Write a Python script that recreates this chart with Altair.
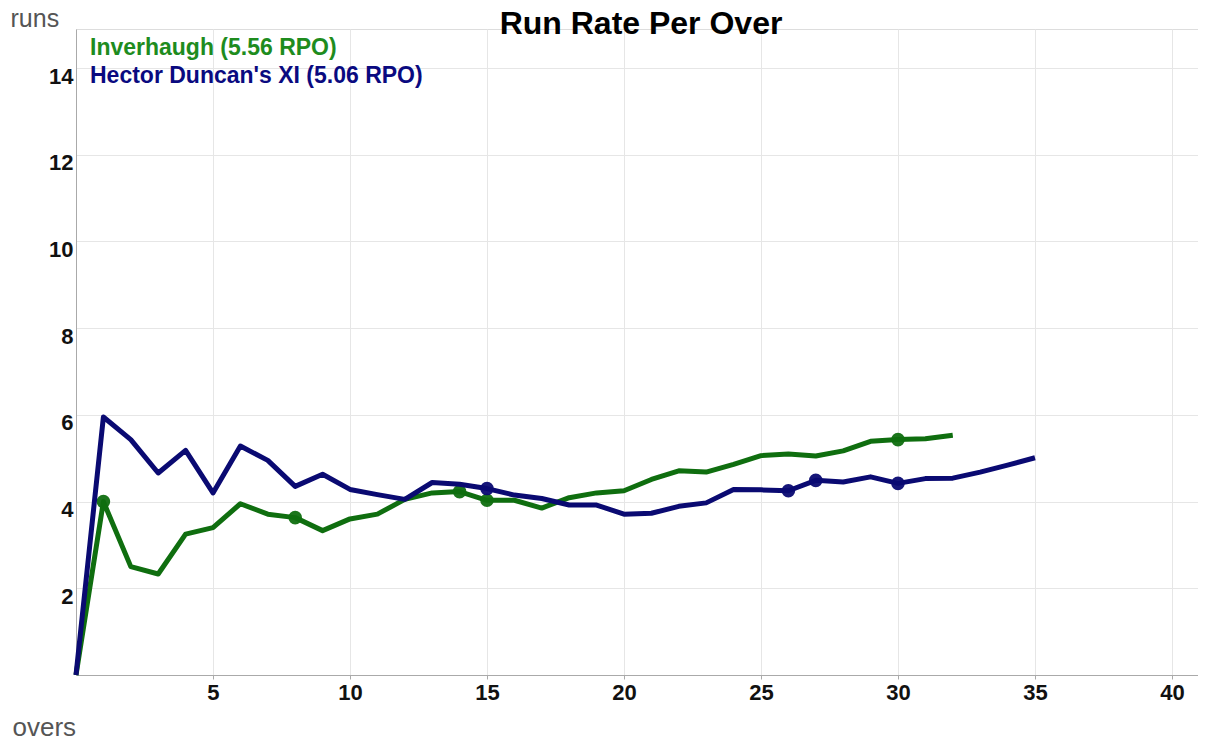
import altair as alt
import pandas as pd

chart_title = "Run Rate Per Over"
teams = ["Inverhaugh", "Hector Duncan's XI"]
rpo = [5.56, 5.06]
colors_line = ["#0f6e0f", "#0a0a72"]
colors_text = ["#1e8c1e", "#0a0a80"]

inv_overs = list(range(0, 33))
inv_rate = [0, 4.0, 2.5, 2.33, 3.25, 3.4, 3.95, 3.71, 3.63, 3.33, 3.6, 3.71, 4.05,
            4.2, 4.23, 4.03, 4.03, 3.85, 4.09, 4.2, 4.25, 4.51, 4.71, 4.68, 4.86,
            5.06, 5.1, 5.05, 5.17, 5.39, 5.43, 5.45, 5.53]
inv_wickets = [1, 8, 14, 15, 30]

hd_overs = list(range(0, 36))
hd_rate = [0, 5.95, 5.43, 4.66, 5.18, 4.2, 5.28, 4.95, 4.35, 4.63, 4.28, 4.16, 4.05,
           4.44, 4.4, 4.3, 4.15, 4.07, 3.92, 3.92, 3.71, 3.73, 3.89, 3.97, 4.28,
           4.27, 4.25, 4.49, 4.45, 4.57, 4.42, 4.53, 4.54, 4.68, 4.84, 5.01]
hd_wickets = [15, 26, 27, 30]

x_ticks = [5, 10, 15, 20, 25, 30, 35, 40]
y_ticks = [2, 4, 6, 8, 10, 12, 14]

rows = []
for o, r in zip(inv_overs, inv_rate):
    rows.append({"team": teams[0], "over": o, "rate": r, "wicket": o in inv_wickets})
for o, r in zip(hd_overs, hd_rate):
    rows.append({"team": teams[1], "over": o, "rate": r, "wicket": o in hd_wickets})
df = pd.DataFrame(rows)

FONT = "Liberation Sans"

x_enc = alt.X("over:Q", scale=alt.Scale(domain=[0, 40.95], nice=False, zero=False),
              axis=alt.Axis(values=x_ticks, title="overs", titleAngle=0,
                            titleAlign="left", titleBaseline="alphabetic",
                            titleX=-64, titleY=60, titleFontSize=26,
                            titleFontWeight="normal", titleColor="#555555",
                            titleFont=FONT,
                            labelFont=FONT, labelFontSize=22, labelFontWeight="bold",
                            labelColor="#111111", labelPadding=3, tickSize=4,
                            tickColor="#aaaaaa", domainColor="#aaaaaa",
                            gridColor="#e6e6e6", grid=True))
y_enc = alt.Y("rate:Q", scale=alt.Scale(domain=[0, 14.9], nice=False),
              axis=alt.Axis(values=y_ticks, title="runs", titleAngle=0,
                            titleAlign="left", titleBaseline="alphabetic",
                            titleX=-66, titleY=-3, titleFontSize=25,
                            titleFontWeight="normal", titleColor="#555555",
                            titleFont=FONT,
                            labelFont=FONT, labelFontSize=22, labelFontWeight="bold",
                            labelColor="#111111", labelPadding=3, labelOffset=8,
                            tickSize=0, domainColor="#aaaaaa",
                            gridColor="#e6e6e6", grid=True))
color_enc = alt.Color("team:N", scale=alt.Scale(domain=teams, range=colors_line), legend=None)

base = alt.Chart(df)
layers = []
for t in teams:
    sub = base.transform_filter(alt.datum.team == t)
    layers.append(sub.mark_line(strokeWidth=5, strokeJoin="round").encode(
        x=x_enc, y=y_enc, color=color_enc))
    layers.append(sub.transform_filter(alt.datum.wicket).mark_circle(size=185, opacity=0.95).encode(
        x=x_enc, y=y_enc, color=color_enc))

legend_y = [26, 54]
for t, v, c, yy in zip(teams, rpo, colors_text, legend_y):
    layers.append(
        alt.Chart(pd.DataFrame({"label": [f"{t} ({v:.2f} RPO)"]})).mark_text(
            align="left", baseline="alphabetic", font=FONT, fontSize=23, fontWeight="bold"
        ).encode(x=alt.value(14), y=alt.value(yy), text="label:N", color=alt.value(c))
    )

layers.append(
    alt.Chart(pd.DataFrame({"label": [chart_title]})).mark_text(
        align="center", baseline="alphabetic", font=FONT, fontSize=32, fontWeight="bold",
        color="#000000"
    ).encode(x=alt.value(565), y=alt.value(5), text="label:N")
)

chart = alt.layer(*layers).properties(
    width=1122,
    height=646,
    autosize=alt.AutoSizeParams(type="none"),
    padding={"left": 68, "top": 21, "right": 0, "bottom": 64},
).configure_view(stroke=None).configure(background="white")

chart.save("out.html", embed_options={"renderer": "svg", "actions": False})
